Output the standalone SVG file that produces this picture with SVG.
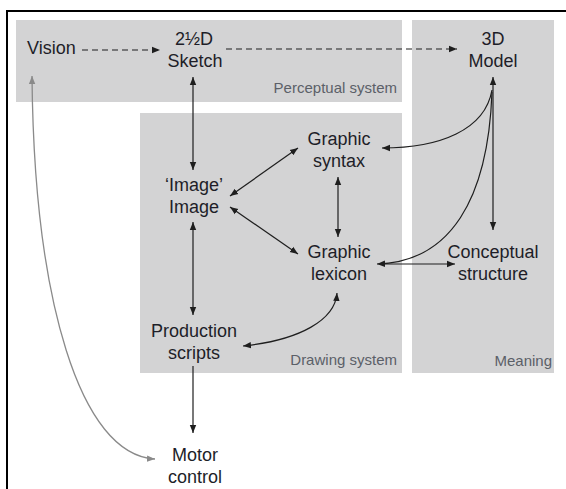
<svg xmlns="http://www.w3.org/2000/svg" width="566" height="489" viewBox="0 0 566 489">
<defs>
<style>
.panel{fill:#d3d3d4;}
.t{font-family:"Liberation Sans",Arial,sans-serif;font-size:18px;fill:#1e1e28;text-anchor:middle;}
.lbl{font-family:"Liberation Sans",Arial,sans-serif;font-size:15px;fill:#5b6068;text-anchor:end;}
.c{fill:none;stroke:#1e1e1e;stroke-width:1.2;}
.d{fill:none;stroke:#1e1e1e;stroke-width:1.2;stroke-dasharray:6 4;}
.g{fill:none;stroke:#8a8a8a;stroke-width:1.3;}
</style>
<marker id="ah" viewBox="0 0 10 10" refX="10" refY="5" markerWidth="8" markerHeight="8" markerUnits="userSpaceOnUse" orient="auto-start-reverse">
<path d="M0,1 L10,5 L0,9 Z" fill="#1e1e1e"/>
</marker>
<marker id="ahg" viewBox="0 0 10 10" refX="10" refY="5" markerWidth="8" markerHeight="8" markerUnits="userSpaceOnUse" orient="auto-start-reverse">
<path d="M0,1 L10,5 L0,9 Z" fill="#8a8a8a"/>
</marker>
</defs>
<rect width="566" height="489" fill="#fff"/>
<path d="M7,489 V11 H566" fill="none" stroke="#000" stroke-width="2"/>
<g id="panels">
<rect class="panel" x="16" y="20" width="386" height="82"/>
<rect class="panel" x="412" y="20" width="142" height="353"/>
<rect class="panel" x="140" y="113" width="262" height="260"/>
<text class="lbl" x="397" y="93">Perceptual system</text>
<text class="lbl" x="397" y="365">Drawing system</text>
<text class="lbl" x="552" y="366">Meaning</text>
</g>
<g id="connectors">
<path class="d" d="M82,50 H160" marker-end="url(#ah)"/>
<path class="d" d="M226,49 H457" marker-end="url(#ah)"/>
<path class="c" d="M193,77 V170" marker-start="url(#ah)" marker-end="url(#ah)"/>
<path class="c" d="M193,222 V315" marker-start="url(#ah)" marker-end="url(#ah)"/>
<path class="c" d="M193,366 V433" marker-end="url(#ah)"/>
<path class="c" d="M230,196 L298,148" marker-start="url(#ah)" marker-end="url(#ah)"/>
<path class="c" d="M230,207 L298,254" marker-start="url(#ah)" marker-end="url(#ah)"/>
<path class="c" d="M338,177 V237" marker-start="url(#ah)" marker-end="url(#ah)"/>
<path class="c" d="M243,346 C300,340 335,320 337,293" marker-start="url(#ah)" marker-end="url(#ah)"/>
<path class="c" d="M493,77 V230" marker-start="url(#ah)" marker-end="url(#ah)"/>
<path class="c" d="M492,90 C485,130 440,148 382,148" marker-end="url(#ah)"/>
<path class="c" d="M492,92 C488,200 450,262 377,264" marker-end="url(#ah)"/>
<path class="c" d="M379,264 H455" marker-end="url(#ah)"/>
<path class="g" d="M32,76 C34,300 80,455 155,459" marker-start="url(#ahg)" marker-end="url(#ahg)"/>
</g>
<g id="vision"><text class="t" x="27" y="54" style="text-anchor:start">Vision</text></g>
<g id="sketch"><text class="t" x="194" y="45">2½D</text><text class="t" x="195" y="67">Sketch</text></g>
<g id="model"><text class="t" x="493" y="45">3D</text><text class="t" x="493" y="67">Model</text></g>
<g id="syntax"><text class="t" x="339" y="145">Graphic</text><text class="t" x="339" y="167">syntax</text></g>
<g id="image"><text class="t" x="194" y="191">‘Image’</text><text class="t" x="194" y="213">Image</text></g>
<g id="lexicon"><text class="t" x="339" y="258">Graphic</text><text class="t" x="339" y="280">lexicon</text></g>
<g id="conceptual"><text class="t" x="493" y="258">Conceptual</text><text class="t" x="493" y="280">structure</text></g>
<g id="production"><text class="t" x="194" y="337">Production</text><text class="t" x="194" y="359">scripts</text></g>
<g id="motor"><text class="t" x="195" y="461">Motor</text><text class="t" x="195" y="483">control</text></g>
</svg>
